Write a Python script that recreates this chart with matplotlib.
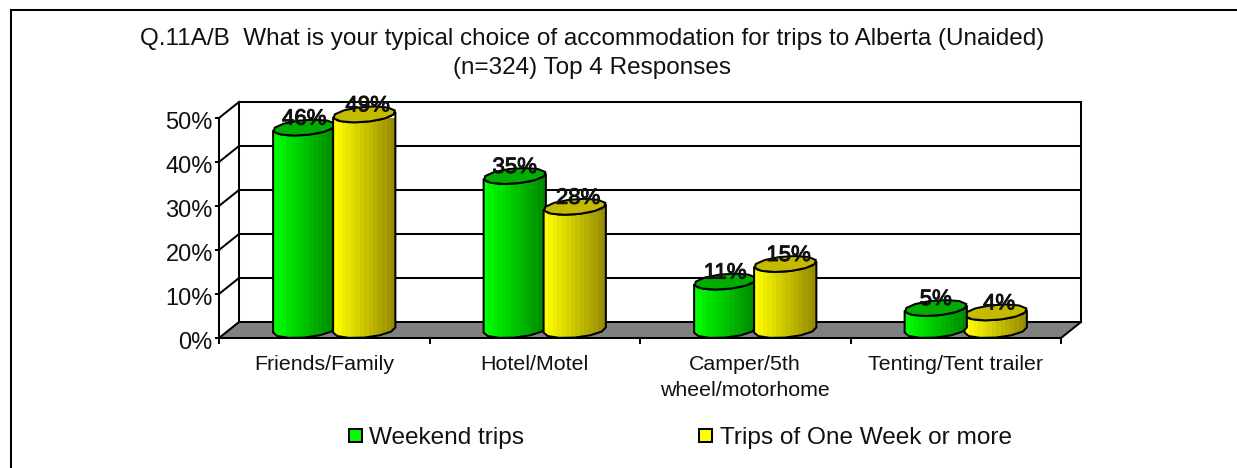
import numpy as np
import matplotlib
matplotlib.use("Agg")
import matplotlib.pyplot as plt
import matplotlib.patheffects as pe
import matplotlib.transforms as mtrans
from matplotlib.patches import Polygon
from matplotlib.lines import Line2D
from matplotlib.patches import Rectangle
from matplotlib.colors import LinearSegmentedColormap

plt.rcParams['font.family'] = ['Liberation Sans', 'DejaVu Sans']

# Data
categories = ['Friends/Family', 'Hotel/Motel', 'Camper/5th\nwheel/motorhome', 'Tenting/Tent trailer']
weekend = [46, 35, 11, 5]
week_plus = [49, 28, 15, 4]
y_ticks = [0, 10, 20, 30, 40, 50]
title = 'Q.11A/B  What is your typical choice of accommodation for trips to Alberta (Unaided)\n(n=324) Top 4 Responses'

W, H = 1237, 468
depth_x = 20 / 210.5   # oblique shift of the back wall, in category units
depth_y = 16 / 4.4     # same, in percent
bar_w = 0.28
bar_step = 0.285
lw = 1.45

fig = plt.figure(figsize=(W / 100, H / 100), dpi=100)
fig.patch.set_facecolor('white')

# outer frame: only top and left show, the rest is cropped away
fig.add_artist(Line2D([11 / W, 11 / W, 1], [0, 1 - 10 / H, 1 - 10 / H], transform=fig.transFigure,
                      color='k', lw=lw, solid_joinstyle='miter'))

ax = fig.add_axes([219 / W, 1 - 338 / H, (1061 - 219) / W, 220 / H])
ax.set_xlim(0, 4)
ax.set_ylim(0, 50)
ax.patch.set_visible(False)
for s in ('top', 'right', 'bottom'):
    ax.spines[s].set_visible(False)
ax.spines['left'].set_linewidth(lw)

clip = False

# floor
ax.add_patch(Polygon([(0, 0), (4, 0), (4 + depth_x, depth_y), (depth_x, depth_y)],
                     fc='#808080', ec='none', clip_on=clip, zorder=1))

# walls and grid
for v in y_ticks:
    ax.plot([depth_x, 4 + depth_x], [v + depth_y] * 2, color='k', lw=lw, clip_on=clip, zorder=2)
    ax.plot([0, depth_x], [v, v + depth_y], color='k', lw=lw, clip_on=clip, zorder=2)
ax.plot([depth_x] * 2, [depth_y, 50 + depth_y], color='k', lw=lw, clip_on=clip, zorder=2)
ax.plot([4 + depth_x] * 2, [depth_y, 50 + depth_y], color='k', lw=lw, clip_on=clip, zorder=2)
ax.plot([0, 4], [0, 0], color='k', lw=lw, clip_on=clip, zorder=2)
ax.plot([4, 4 + depth_x], [0, depth_y], color='k', lw=lw, clip_on=clip, zorder=2)

# axis ticks and labels
ax.set_yticks(y_ticks)
ax.set_yticklabels([f'{v}%' for v in y_ticks], fontsize=17, color='#111111')
ax.tick_params(axis='y', length=3, width=lw, pad=1.5)
# the reference prints these a little below their tick
down = mtrans.ScaledTranslation(0, -2.5 / 100, fig.dpi_scale_trans)
for lbl in ax.get_yticklabels():
    lbl.set_transform(lbl.get_transform() + down)
ax.set_xticks(range(5))
ax.set_xticklabels([])
ax.tick_params(axis='x', length=4, width=lw, direction='out')
ax.set_xticks(np.arange(4) + 0.5, minor=True)
ax.set_xticklabels(categories, minor=True, fontsize=15.4, color='#111111', linespacing=1.43, va='top')
ax.tick_params(axis='x', which='minor', length=0, pad=12.5)


def ring(cx, y0, t0, t1, n):
    t = np.linspace(t0, t1, n)
    x = cx + depth_x / 2 + bar_w / 2 * np.cos(t) + depth_x / 2 * np.sin(t)
    y = y0 + depth_y / 2 * (1 + np.sin(t))
    return np.column_stack([x, y])


def cylinder(cx, val, side_cmap, top_color, z):
    t_r = np.arctan2(depth_x, bar_w)
    t_l = t_r + np.pi
    front = ring(cx, 0, t_l, t_r + 2 * np.pi, 7)
    top_front = ring(cx, val, t_l, t_r + 2 * np.pi, 7)
    outline = np.vstack([front, top_front[::-1]])
    body = Polygon(outline, closed=True, fc='none', ec='k', lw=lw, clip_on=False, zorder=z + 0.2)
    ax.add_patch(body)
    grad = np.linspace(0, 1, 14).reshape(1, -1)
    xs = outline[:, 0]
    ys = outline[:, 1]
    im = ax.imshow(grad, cmap=side_cmap, aspect='auto', zorder=z,
                   extent=(xs.min(), xs.max(), ys.min(), ys.max()), interpolation='nearest')
    im.set_clip_path(Polygon(outline, closed=True, transform=ax.transData))
    cap = ring(cx, val, 0, 2 * np.pi, 13)
    ax.add_patch(Polygon(cap, closed=True, fc=top_color, ec='k', lw=lw, clip_on=False, zorder=z + 0.3))


green = LinearSegmentedColormap.from_list('g', ['#00ff00', '#008a00'])
yellow = LinearSegmentedColormap.from_list('y', ['#ffff00', '#968c00'])
heavy = [pe.withStroke(linewidth=0.7, foreground='#111111')]

for i, (a, b) in enumerate(zip(weekend, week_plus)):
    cx = i + 0.5
    # last group has the green cylinder sitting in front of the yellow one
    z_g, z_y = (5, 4) if i == 3 else (4, 5)
    cylinder(cx - bar_step / 2, a, green, '#00ad00', z_g)
    cylinder(cx + bar_step / 2, b, yellow, '#c4bb00', z_y)
    for off, v in ((-bar_step / 2, a), (bar_step / 2 + 0.016, b)):
        ax.text(cx + off + depth_x / 2, v + 2.5, f'{v}%', ha='center', va='baseline',
                fontsize=16, color='#111111', zorder=8, path_effects=heavy)

ax.set_xlim(0, 4)
ax.set_ylim(0, 50)

# title
fig.text(592 / W, 1 - 53.5 / H, title, ha='center', va='center', fontsize=17.5, color='#111111', linespacing=1.41)

# legend drawn by hand to keep the wide gap between entries
for x0, col, txt, tx in ((349, '#00ff00', 'Weekend trips', 369), (699, '#ffff00', 'Trips of One Week or more', 720)):
    fig.add_artist(Rectangle((x0 / W, 1 - 442 / H), 13 / W, 13 / H, transform=fig.transFigure,
                             fc=col, ec='k', lw=lw))
    fig.text(tx / W, 1 - 438 / H, txt, ha='left', va='center', fontsize=17.6, color='#111111')

fig.savefig('out.png', dpi=100)
